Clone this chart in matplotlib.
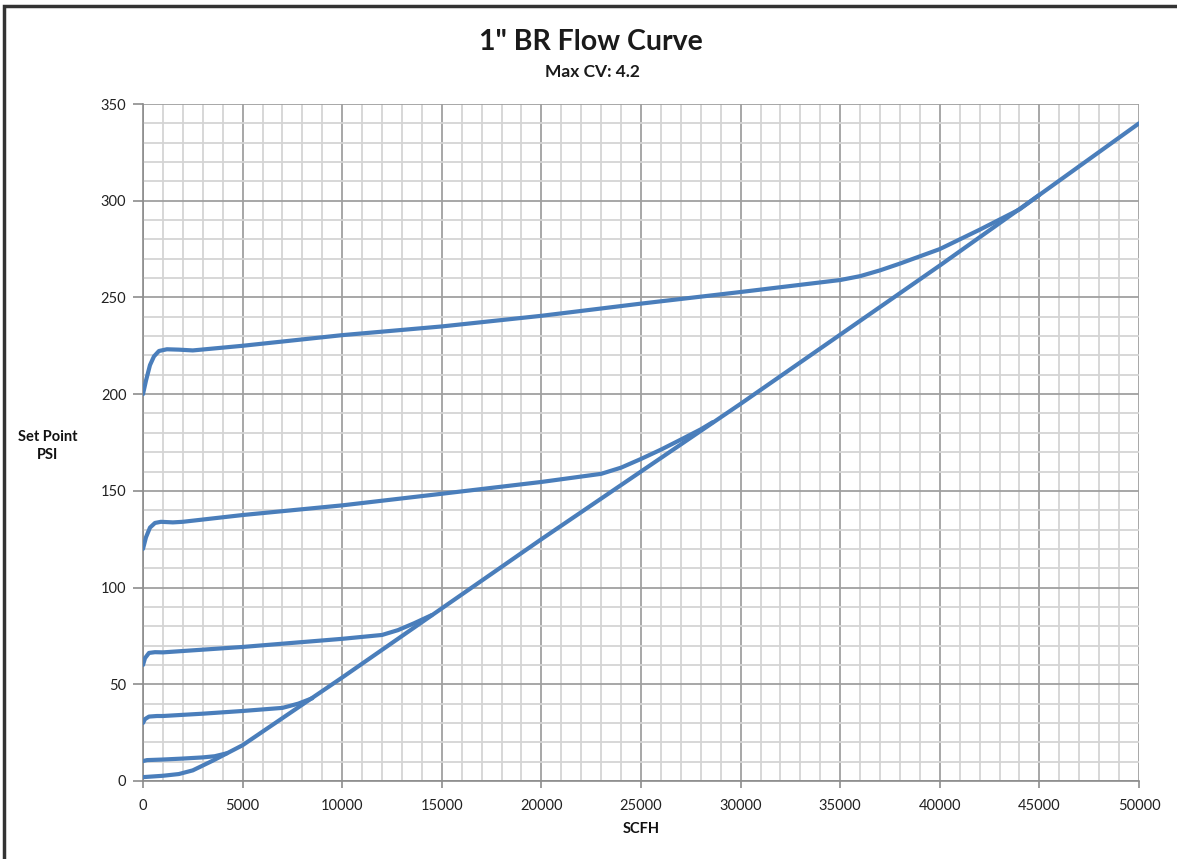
import matplotlib
matplotlib.use("Agg")
import matplotlib.pyplot as plt
from matplotlib.patches import Rectangle
import numpy as np

plt.rcParams['font.family'] = ['Lato', 'DejaVu Sans']

# ---- data ----
curve_0_x = [0, 1000, 1800, 2500, 3500, 5000, 10000, 20000, 30000, 40000, 45000, 50000]
curve_0_y = [2, 2.7, 3.6, 5.5, 10.5, 18.5, 53.5, 125, 195, 266.5, 303, 340]

curve_10_x = [0, 200, 1000, 2000, 3000, 3600, 4200]
curve_10_y = [10.3, 10.8, 11.1, 11.6, 12.2, 12.8, 14.3]

curve_30_x = [0, 100, 300, 700, 1000, 3000, 5000, 7000, 7800, 8500]
curve_30_y = [30, 32, 33.3, 33.6, 33.6, 34.8, 36.2, 37.8, 40, 42.8]

curve_60_x = [0, 100, 300, 600, 1000, 5000, 10000, 12000, 12800, 13600, 14500]
curve_60_y = [60, 63.5, 66.2, 66.6, 66.5, 69.3, 73.5, 75.5, 78, 81.5, 85.8]

curve_120_x = [0, 150, 350, 600, 900, 1500, 2000, 5000, 10000, 15000, 20000, 23000,
               24000, 25000, 26000, 27000, 28000, 28600]
curve_120_y = [120, 126, 131, 133.4, 134, 133.7, 134, 137.5, 142.5, 148.5, 154.6, 158.8,
               162, 166.5, 171.3, 176.5, 181.8, 185.5]

curve_200_x = [0, 150, 350, 550, 800, 1200, 1800, 2500, 5000, 10000, 15000, 20000,
               25000, 30000, 35000, 36000, 37000, 38000, 40000, 42000, 44000, 45000]
curve_200_y = [200, 207, 215, 219.5, 222.3, 223.2, 223, 222.6, 225, 230.5, 235, 240.5,
               246.8, 252.8, 259, 261, 264, 267.5, 275, 285, 295.5, 303]

x_ticks = [0, 5000, 10000, 15000, 20000, 25000, 30000, 35000, 40000, 45000, 50000]
y_ticks = [0, 50, 100, 150, 200, 250, 300, 350]

title = '1" BR Flow Curve'
subtitle = 'Max CV: 4.2'
x_label = 'SCFH'
y_label = 'Set Point\nPSI'

# ---- figure ----
W, H = 1177, 859
fig = plt.figure(figsize=(W / 100, H / 100), dpi=100)
ax = fig.add_axes([143 / W, 1 - 781 / H, (1139 - 143) / W, (781 - 104) / H])

line_color = '#4A7EBB'
for xs, ys in [(curve_0_x, curve_0_y), (curve_10_x, curve_10_y), (curve_30_x, curve_30_y),
               (curve_60_x, curve_60_y), (curve_120_x, curve_120_y), (curve_200_x, curve_200_y)]:
    ax.plot(xs, ys, color=line_color, lw=3.0, solid_capstyle='round', solid_joinstyle='round',
            zorder=3)

ax.set_xlim(0, 50000)
ax.set_ylim(0, 350)
ax.set_xticks(x_ticks)
ax.set_yticks(y_ticks)
ax.set_xticks(np.arange(0, 50001, 1000), minor=True)
ax.set_yticks(np.arange(0, 351, 10), minor=True)
ax.grid(which='minor', color='#D4D4D4', lw=1.3, zorder=0)
ax.grid(which='major', color='#A0A0A0', lw=1.3, zorder=1)
ax.set_axisbelow(True)

for s in ['top', 'right']:
    ax.spines[s].set_visible(False)
for s in ['left', 'bottom']:
    ax.spines[s].set_color('#8C8C8C')
    ax.spines[s].set_linewidth(1.2)

ax.tick_params(axis='both', which='major', direction='out', width=1.2,
               color='#8C8C8C', labelsize=10.5, labelcolor='#222222')
ax.tick_params(axis='x', which='major', pad=8, length=5)
ax.tick_params(axis='y', which='major', pad=5, length=7)
ax.tick_params(which='minor', length=0)

fig.text(591 / W, 1 - 42 / H, title, ha='center', va='center',
         fontsize=20.5, fontweight='bold', color='#1A1A1A')
fig.text(592 / W, 1 - 72 / H, subtitle, ha='center', va='center',
         fontsize=12.5, fontweight='bold', color='#1A1A1A')
fig.text(641 / W, 1 - 829 / H, x_label, ha='center', va='center', fontsize=10.5,
         fontweight='bold', color='#111111')
fig.text(48 / W, 1 - 446 / H, y_label, ha='center', va='center', fontsize=10.5,
         fontweight='bold', color='#111111', linespacing=1.3)

# outer frame: visible on the left and top only (extends past right/bottom edges)
fig.patches.append(Rectangle((4 / W, -0.05), 1.1, 1 - 6 / H + 0.05,
                             transform=fig.transFigure, fill=False, edgecolor='#333333',
                             lw=2.5, clip_on=False))

fig.savefig('out.png', dpi=100)
